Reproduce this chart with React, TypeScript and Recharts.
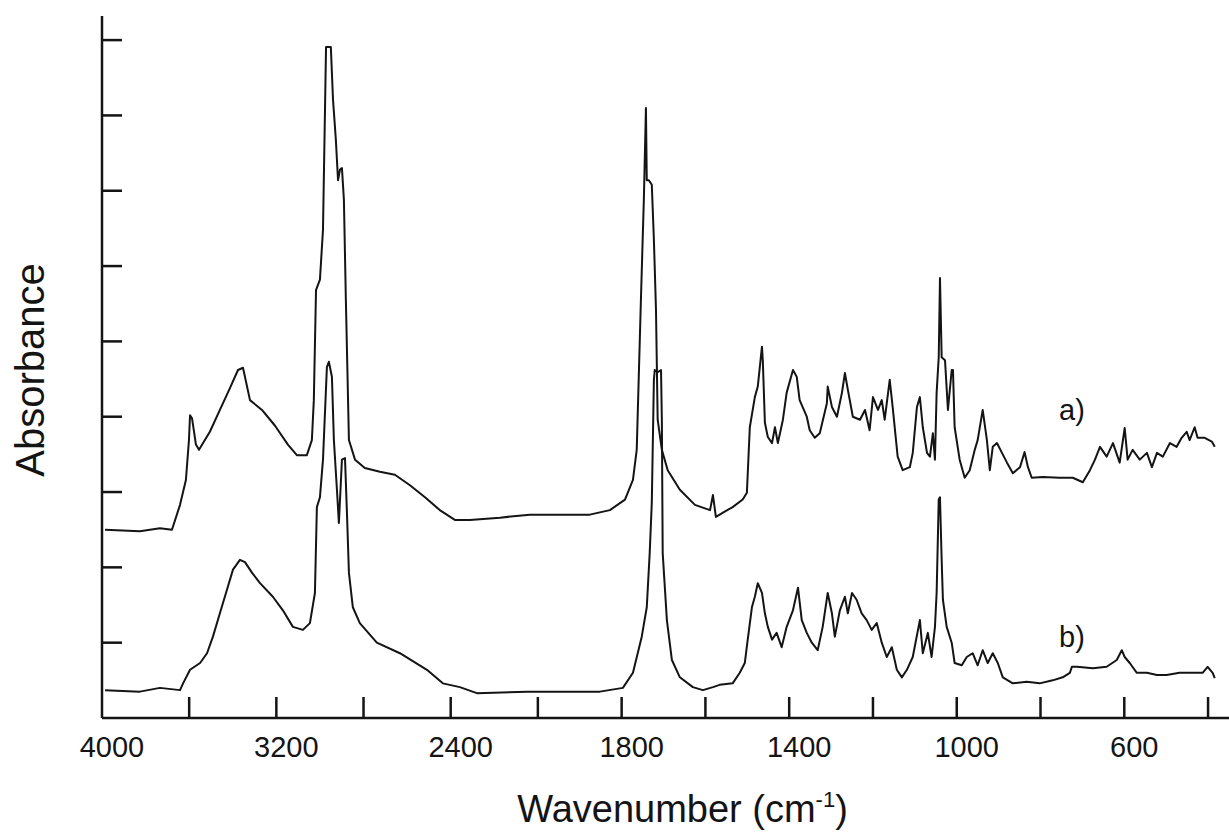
import { LineChart, Line, XAxis, YAxis, ReferenceDot } from 'recharts';

// trace a) — wavenumber (cm-1) and absorbance (offset units)
const waveA = [
  3986, 3826, 3734, 3679, 3642, 3615, 3601, 3596, 3587, 3569,
  3555, 3505, 3459, 3413, 3376, 3353, 3321, 3266, 3206, 3147,
  3106, 3060, 3037, 3028, 3018, 3000, 2986, 2972, 2950, 2940,
  2927, 2917, 2908, 2899, 2890, 2881, 2867, 2839, 2794, 2725,
  2656, 2587, 2518, 2450, 2381, 2312, 2174, 2037, 1947, 1876,
  1828, 1792, 1773, 1764, 1754, 1747, 1742, 1740, 1735, 1728,
  1723, 1718, 1714, 1704, 1690, 1661, 1625, 1589, 1582, 1575,
  1554, 1535, 1511, 1501, 1494, 1482, 1475, 1465, 1463, 1458,
  1451, 1441, 1434, 1427, 1415, 1406, 1391, 1382, 1375, 1358,
  1351, 1339, 1327, 1310, 1308, 1298, 1286, 1274, 1267, 1260,
  1248, 1231, 1219, 1208, 1200, 1188, 1179, 1172, 1160, 1153,
  1141, 1129, 1112, 1105, 1095, 1088, 1081, 1071, 1064, 1057,
  1052, 1048, 1043, 1040, 1036, 1028, 1021, 1012, 1009, 1005,
  993, 981, 969, 957, 950, 938, 928, 921, 914, 904,
  892, 880, 866, 849, 838, 830, 821, 795, 754, 723,
  699, 682, 670, 658, 642, 627, 611, 599, 592, 580,
  563, 546, 534, 522, 508, 491, 475, 463, 451, 444,
  432, 425, 408, 391, 384,
];
const absA = [
  2.5, 2.48, 2.52, 2.5, 2.83, 3.16, 3.69, 4.02, 3.98, 3.63,
  3.56, 3.8, 4.09, 4.38, 4.62, 4.65, 4.22, 4.09, 3.88, 3.63,
  3.49, 3.49, 3.69, 4.22, 5.68, 5.82, 6.48, 8.91, 8.91, 8.21,
  7.68, 7.14, 7.28, 7.3, 6.88, 5.55, 3.69, 3.43, 3.32, 3.27,
  3.23, 3.09, 2.93, 2.76, 2.63, 2.63, 2.66, 2.7, 2.7, 2.7,
  2.76, 2.9, 3.16, 3.56, 5.55, 6.88, 8.1, 7.14, 7.14, 7.08,
  6.35, 5.42, 3.96, 3.56, 3.29, 3.03, 2.83, 2.76, 2.96, 2.67,
  2.74, 2.8, 2.9, 2.99, 3.86, 4.26, 4.4, 4.93, 4.75, 3.92,
  3.73, 3.65, 3.86, 3.65, 3.96, 4.32, 4.62, 4.53, 4.22, 4.0,
  3.82, 3.72, 3.78, 4.18, 4.4, 4.13, 4.0, 4.32, 4.58, 4.36,
  4.0, 3.96, 4.09, 3.82, 4.26, 4.09, 4.22, 3.96, 4.49, 4.13,
  3.47, 3.29, 3.33, 3.52, 4.13, 4.26, 3.86, 3.52, 3.47, 3.78,
  3.43, 4.32, 4.79, 5.84, 4.79, 4.75, 4.09, 4.62, 4.62, 3.86,
  3.43, 3.19, 3.29, 3.56, 3.69, 4.09, 3.69, 3.29, 3.6, 3.65,
  3.52, 3.39, 3.25, 3.33, 3.53, 3.33, 3.19, 3.2, 3.19, 3.19,
  3.13, 3.29, 3.43, 3.6, 3.47, 3.65, 3.39, 3.85, 3.43, 3.56,
  3.43, 3.52, 3.33, 3.52, 3.47, 3.65, 3.6, 3.72, 3.8, 3.69,
  3.86, 3.72, 3.72, 3.67, 3.6,
];

// trace b)
const waveB = [
  3986, 3826, 3734, 3642, 3628, 3596, 3550, 3518, 3491, 3459,
  3427, 3399, 3367, 3344, 3312, 3275, 3216, 3170, 3124, 3078,
  3046, 3023, 3014, 3000, 2986, 2968, 2959, 2945, 2936, 2922,
  2913, 2899, 2885, 2876, 2867, 2849, 2817, 2739, 2633, 2509,
  2436, 2358, 2280, 2050, 1907, 1852, 1797, 1773, 1752, 1740,
  1733, 1728, 1723, 1721, 1714, 1706, 1704, 1702, 1692, 1680,
  1661, 1630, 1606, 1582, 1566, 1535, 1518, 1506, 1499, 1489,
  1482, 1475, 1465, 1458, 1451, 1441, 1430, 1418, 1406, 1391,
  1379, 1370, 1358, 1346, 1332, 1320, 1308, 1298, 1291, 1279,
  1267, 1260, 1250, 1239, 1227, 1215, 1203, 1191, 1179, 1167,
  1155, 1143, 1131, 1119, 1105, 1088, 1081, 1069, 1060, 1052,
  1048, 1043, 1040, 1036, 1033, 1024, 1012, 1005, 988, 976,
  962, 950, 938, 926, 914, 902, 890, 866, 833, 802,
  771, 747, 730, 725, 713, 675, 642, 618, 606, 599,
  587, 570, 546, 522, 499, 468, 437, 413, 401, 389,
  384,
];
const absB = [
  0.37, 0.35, 0.4, 0.37, 0.46, 0.64, 0.73, 0.86, 1.08, 1.39,
  1.7, 1.97, 2.1, 2.07, 1.93, 1.79, 1.61, 1.43, 1.21, 1.17,
  1.26, 1.66, 2.8, 2.93, 3.43, 4.66, 4.73, 4.53, 3.69, 3.03,
  2.59, 3.43, 3.45, 2.72, 1.93, 1.47, 1.26, 1.0, 0.86, 0.64,
  0.46, 0.41, 0.33, 0.35, 0.35, 0.35, 0.4, 0.6, 1.08, 1.47,
  2.19, 2.86, 4.49, 4.62, 4.59, 4.62, 3.96, 2.19, 1.3, 0.77,
  0.54, 0.41, 0.37, 0.41, 0.44, 0.46, 0.6, 0.73, 1.04, 1.47,
  1.61, 1.79, 1.66, 1.39, 1.21, 1.04, 1.13, 0.94, 1.21, 1.43,
  1.73, 1.3, 1.13, 1.0, 0.9, 1.21, 1.66, 1.39, 1.08, 1.43,
  1.61, 1.39, 1.66, 1.57, 1.39, 1.3, 1.17, 1.26, 1.0, 0.81,
  0.94, 0.64, 0.54, 0.64, 0.81, 1.3, 0.86, 1.13, 0.81, 1.21,
  1.66, 2.9, 2.93, 2.1, 1.57, 1.21, 1.0, 0.73, 0.7, 0.81,
  0.86, 0.7, 0.9, 0.73, 0.86, 0.73, 0.54, 0.46, 0.48, 0.46,
  0.5, 0.54, 0.6, 0.68, 0.68, 0.66, 0.68, 0.77, 0.9, 0.81,
  0.73, 0.6, 0.6, 0.57, 0.57, 0.6, 0.6, 0.6, 0.68, 0.6,
  0.53,
];

const tickWaves = [4000, 3600, 3200, 2800, 2400, 2000, 1800, 1600, 1400, 1200, 1000, 800, 600, 400];
const labelWaves = [4000, 3200, 2400, 1800, 1400, 1000, 600];
const yTicks = [1, 2, 3, 4, 5, 6, 7, 8, 9];

const INK = '#141414';
const FONT = '"Liberation Sans", Arial, Helvetica, sans-serif';

// the instrument plot doubles the scale below 2000 cm-1
const SPLIT = 2000;
const STRETCH = 1.922;
const toAxis = (w: number) => (w >= SPLIT ? 4000 - w : SPLIT + (SPLIT - w) * STRETCH);
const X_MAX = toAxis(350);

const seriesA = waveA.map((w, i) => ({ x: toAxis(w), y: absA[i] }));
const seriesB = waveB.map((w, i) => ({ x: toAxis(w), y: absB[i] }));

const XTick = (props: any) => {
  const { x, y, index } = props;
  const w = tickWaves[index];
  return (
    <g>
      {w !== 4000 && <line x1={x} x2={x} y1={y} y2={y - 21} stroke={INK} strokeWidth={2.5} />}
      {labelWaves.includes(w) && (
        <text x={x + 10} y={y + 39} textAnchor='middle' fontSize={29} fill={INK} fontFamily={FONT}>
          {w}
        </text>
      )}
    </g>
  );
};

const YTick = (props: any) => {
  const { x, y } = props;
  return <line x1={x} x2={x + 20} y1={y} y2={y} stroke={INK} strokeWidth={2.5} />;
};

const XTitle = ({ viewBox }: any) => {
  const cx = viewBox.x + viewBox.width / 2 + 17;
  return (
    <text x={cx} y={viewBox.y + 104} textAnchor='middle' fontSize={38} fill={INK} fontFamily={FONT}>
      Wavenumber (cm
      <tspan fontSize={22} dy={-15}>-1</tspan>
      <tspan dy={15}>)</tspan>
    </text>
  );
};

const YTitle = ({ viewBox }: any) => {
  const x = viewBox.x + 44;
  const y = viewBox.y + viewBox.height / 2 + 3;
  return (
    <text
      x={x}
      y={y}
      transform={`rotate(-90, ${x}, ${y})`}
      textAnchor='middle'
      fontSize={40}
      fill={INK}
      fontFamily={FONT}
    >
      Absorbance
    </text>
  );
};

export default function App() {
  return (
    <div style={{ position: 'absolute', left: 0, top: 0, width: 1229, height: 833, background: '#fff' }}>
      <LineChart width={1229} height={833} margin={{ top: 16, right: 0, bottom: 0, left: 0 }}>
        <XAxis
          type='number'
          dataKey='x'
          domain={[0, X_MAX]}
          ticks={tickWaves.map(toAxis)}
          interval={0}
          height={115}
          allowDataOverflow
          axisLine={{ stroke: INK, strokeWidth: 2.5 }}
          tickLine={false}
          tickSize={0}
          tickMargin={0}
          tick={<XTick />}
          label={{ content: <XTitle /> }}
        />
        <YAxis
          type='number'
          domain={[0, 9.32]}
          ticks={yTicks}
          interval={0}
          width={102}
          allowDataOverflow
          axisLine={{ stroke: INK, strokeWidth: 2.5 }}
          tickLine={false}
          tickSize={0}
          tickMargin={0}
          tick={<YTick />}
          label={{ content: <YTitle /> }}
        />
        <Line
          data={seriesA}
          dataKey='y'
          type='linear'
          stroke={INK}
          strokeWidth={2}
          strokeLinejoin='round'
          dot={false}
          activeDot={false}
          isAnimationActive={false}
        />
        <Line
          data={seriesB}
          dataKey='y'
          type='linear'
          stroke={INK}
          strokeWidth={2}
          strokeLinejoin='round'
          dot={false}
          activeDot={false}
          isAnimationActive={false}
        />
        <ReferenceDot
          x={toAxis(725)}
          y={4.09}
          r={0}
          label={{ value: 'a)', position: 'center', fontSize: 29, fill: INK, fontFamily: FONT }}
        />
        <ReferenceDot
          x={toAxis(725)}
          y={1.08}
          r={0}
          label={{ value: 'b)', position: 'center', fontSize: 29, fill: INK, fontFamily: FONT }}
        />
      </LineChart>
    </div>
  );
}
